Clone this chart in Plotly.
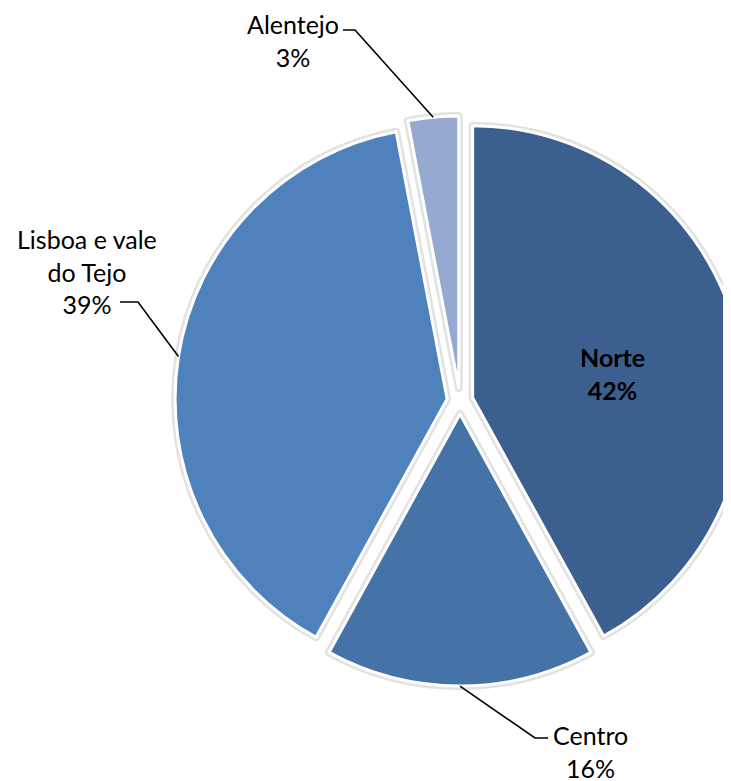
import math
import plotly.graph_objects as go

# ---- data ----
regions = ["Norte", "Centro", "Lisboa e vale do Tejo", "Alentejo"]
shares = [42, 16, 39, 3]
label_texts = ["Norte", "Centro", "Lisboa e vale<br>do Tejo", "Alentejo"]
colors = ["#3B5F8E", "#4573A8", "#4F81BD", "#95A9D1"]

# ---- layout constants (page pixels) ----
W, H = 760, 781
PAGE_OFF = 8             # default body margin of the page
CX, CY = 460, 401        # pie centre
R = 272                  # pie radius
PULL = 0.048             # explode fraction
FONT = "Lato, 'Open Sans', sans-serif"
FS = 25

def px2paper(x, y):
    return (x - PAGE_OFF) / W, 1 - (y - PAGE_OFF) / H

half = R * (1 + PULL)
dom_x = [(CX - PAGE_OFF - half) / W, (CX - PAGE_OFF + half) / W]
dom_y = [1 - (CY - PAGE_OFF + half) / H, 1 - (CY - PAGE_OFF - half) / H]

common = dict(
    labels=regions,
    values=shares,
    sort=False,
    direction="clockwise",
    rotation=0,
    pull=[PULL] * len(shares),
    textinfo="none",
    domain=dict(x=dom_x, y=dom_y),
    showlegend=False,
)

fig = go.Figure()
# soft shadow halo under the slices
fig.add_trace(go.Pie(
    marker=dict(colors=colors, line=dict(color="#E2E2E2", width=8)),
    hoverinfo="skip",
    **common,
))
# the slices themselves
fig.add_trace(go.Pie(
    marker=dict(colors=colors, line=dict(color="white", width=3)),
    hoverinfo="label+percent",
    **common,
))

total = sum(shares)
cum = 0
mids = []
for v in shares:
    mids.append((cum + v / 2) / total * 2 * math.pi)
    cum += v

shapes = []
annotations = []

# inside label (Norte)
nx, ny = px2paper(612, 373)
annotations.append(dict(
    x=nx, y=ny, xref="paper", yref="paper",
    text=f"<b>{label_texts[0]}<br>{round(shares[0] / total * 100)}%</b>",
    showarrow=False, align="center",
    font=dict(family=FONT, size=FS, color="black"),
    xanchor="center", yanchor="middle",
))

# outside labels with leader lines; edge points derived from the data
# placement: (text centre x, text centre y, elbow x, elbow y, end x)
placements = {
    1: (590, 751, 535, 738, 548),
    2: (87, 271, 138, 302, 120),
    3: (293, 40, 355, 30, 343),
}
for i, (tx, ty, ex, ey, endx) in placements.items():
    a = mids[i]
    dist = R * (1 + PULL)
    px = CX + dist * math.sin(a)
    py = CY - dist * math.cos(a)
    p0 = px2paper(px, py)
    p1 = px2paper(ex, ey)
    p2 = px2paper(endx, ey)
    shapes.append(dict(
        type="path", xref="paper", yref="paper",
        path=f"M {p0[0]},{p0[1]} L {p1[0]},{p1[1]} L {p2[0]},{p2[1]}",
        line=dict(color="black", width=1.6),
    ))
    ax, ay = px2paper(tx, ty)
    annotations.append(dict(
        x=ax, y=ay, xref="paper", yref="paper",
        text=f"{label_texts[i]}<br>{round(shares[i] / total * 100)}%",
        showarrow=False, align="center",
        font=dict(family=FONT, size=FS, color="black"),
        xanchor="center", yanchor="middle",
    ))

fig.update_layout(
    width=W, height=H,
    margin=dict(l=0, r=0, t=0, b=0),
    paper_bgcolor="white",
    plot_bgcolor="white",
    shapes=shapes,
    annotations=annotations,
)

fig.write_html("out.html")
